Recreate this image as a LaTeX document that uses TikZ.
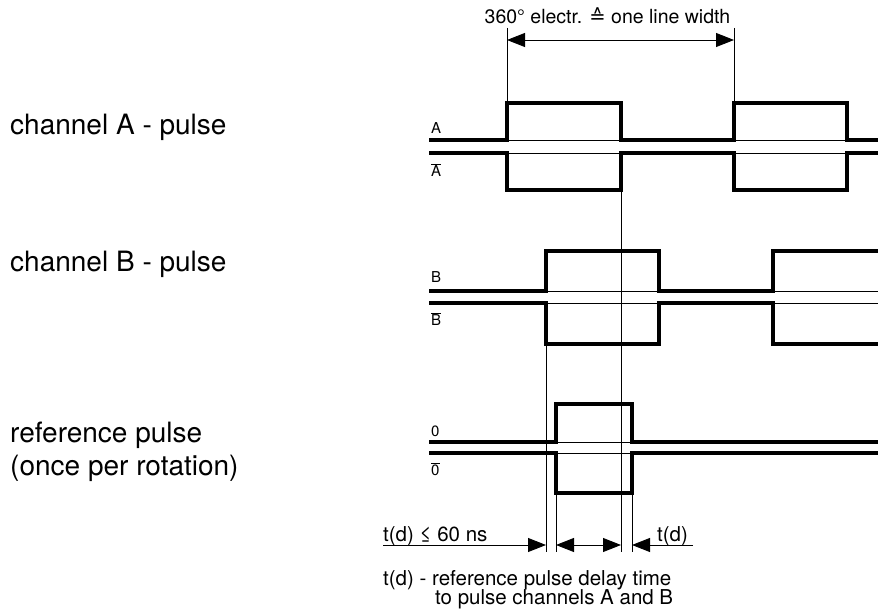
\documentclass[tikz,border=0pt]{standalone}
\usepackage{fontspec}
\setmainfont{TeX Gyre Heros}
\newfontfamily\symfont{DejaVu Sans}
\usetikzlibrary{arrows.meta}

\tikzset{
  signal/.style={line width=3.2pt, line join=miter},
  refline/.style={line width=0.8pt},
  dimline/.style={line width=0.9pt},
  dimarrow/.style={-{Triangle[length=18pt,width=14pt]}},
  dimarrows/.style={{Triangle[length=18pt,width=14pt]}-{Triangle[length=18pt,width=14pt]}},
  chlabel/.style={anchor=base west, inner sep=0pt, font=\fontsize{28}{34}\selectfont},
  siglabel/.style={anchor=base west, inner sep=0pt, font=\fontsize{15}{18}\selectfont},
  notetext/.style={anchor=base west, inner sep=0pt, font=\fontsize{20.5}{24}\selectfont},
}
\newcommand{\ovl}[1]{$\overline{\mbox{#1}}$}

\begin{document}
\begin{tikzpicture}[x=1pt,y=-1pt]
    \useasboundingbox (0,0) rectangle (878,612);

    \node[chlabel] (chA) at (10,135) {channel A - pulse};
    \node[chlabel] (chB) at (10,272) {channel B - pulse};
    \node[chlabel] (chR) at (10,442) {reference pulse};
    \node[chlabel] (chRb) at (10,475) {(once per rotation)};

    \node[siglabel] (labA) at (431,133.5) {A};
    \node[siglabel] (labAn) at (431,177) {\ovl{A}};
    \node[siglabel] (labB) at (431,283) {B};
    \node[siglabel] (labBn) at (431,326) {\ovl{B}};
    \node[siglabel] (labZ) at (431,436) {0};
    \node[siglabel] (labZn) at (431,475) {\ovl{0}};

    \foreach \y in {140,153,291,303,442,453}
        \draw[refline] (429,\y) -- (878,\y);

    % channel A
    \draw[signal] (429,140) -- (507,140) -- (507,103) -- (621,103) -- (621,140) -- (734,140) -- (734,103) -- (847,103) -- (847,140) -- (878,140);
    \draw[signal] (429,153) -- (507,153) -- (507,190) -- (621,190) -- (621,153) -- (734,153) -- (734,190) -- (847,190) -- (847,153) -- (878,153);
    % channel B
    \draw[signal] (429,291) -- (546,291) -- (546,251) -- (659,251) -- (659,291) -- (773,291) -- (773,251) -- (878,251);
    \draw[signal] (429,303) -- (546,303) -- (546,344) -- (659,344) -- (659,303) -- (773,303) -- (773,344) -- (878,344);
    % reference
    \draw[signal] (429,442) -- (556,442) -- (556,404) -- (632,404) -- (632,442) -- (878,442);
    \draw[signal] (429,453) -- (556,453) -- (556,493) -- (632,493) -- (632,453) -- (878,453);

    \coordinate (dimL) at (507,28);
    \coordinate (dimR) at (734,28);
    \coordinate (riseA) at (507,103);
    \coordinate (riseAb) at (734,103);
    \coordinate (arL) at (507,40);
    \coordinate (arR) at (734,40);
    \draw[dimline] (dimL) -- (riseA);
    \draw[dimline] (dimR) -- (riseAb);
    \draw[dimline, dimarrows] (arL) -- (arR);
    \node[anchor=base, inner sep=0pt, font=\fontsize{19.5}{22}\selectfont] (width) at (607.5,24) {360° electr. {\symfont ≙} one line width};

    \coordinate (fallA) at (621,190);
    \coordinate (riseB) at (546,344);
    \coordinate (riseZ) at (556,493);
    \coordinate (fallZ) at (632,493);
    \coordinate (fallAe) at (621,552);
    \coordinate (riseBe) at (546,552);
    \coordinate (riseZe) at (556,552);
    \coordinate (fallZe) at (632,552);
    \draw[dimline] (fallA) -- (fallAe);
    \draw[dimline] (riseB) -- (riseBe);
    \draw[dimline] (riseZ) -- (riseZe);
    \draw[dimline] (fallZ) -- (fallZe);

    \coordinate (tdL) at (383,545);
    \coordinate (pB) at (546,545);
    \coordinate (pZr) at (556,545);
    \coordinate (pA) at (621,545);
    \coordinate (pZf) at (632,545);
    \coordinate (tdR) at (693,545);
    \draw[dimline, dimarrow] (tdL) -- (pB);
    \draw[dimline, dimarrows] (pZr) -- (pA);
    \draw[dimline, dimarrow] (tdR) -- (pZf);

    \node[notetext] (td) at (383,541) {t(d) ≤ 60 ns};
    \node[notetext] (tdr) at (657,541) {t(d)};
    \node[notetext] (expl) at (383,585) {t(d) - reference pulse delay time};
    \node[notetext] (explb) at (435,604) {to pulse channels A and B};

\end{tikzpicture}
\end{document}
